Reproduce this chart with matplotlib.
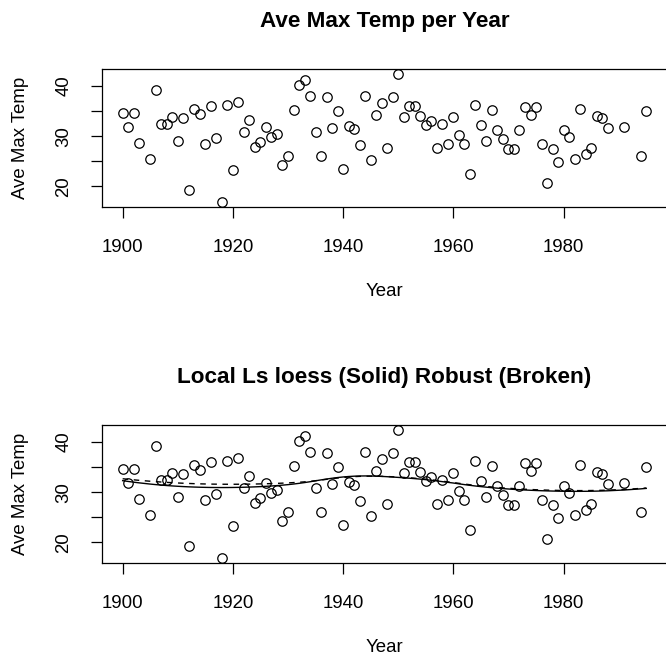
import numpy as np
import matplotlib
matplotlib.use("Agg")
import matplotlib.pyplot as plt

plt.rcParams['font.family'] = ['Liberation Sans', 'DejaVu Sans']

# yearly average maximum temperature
years = [1900, 1901, 1902, 1903, 1905, 1906, 1907, 1908, 1909, 1910,
         1911, 1912, 1913, 1914, 1915, 1916, 1917, 1918, 1919, 1920,
         1921, 1922, 1923, 1924, 1925, 1926, 1927, 1928, 1929, 1930,
         1931, 1932, 1933, 1934, 1935, 1936, 1937, 1938, 1939, 1940,
         1941, 1942, 1943, 1944, 1945, 1946, 1947, 1948, 1949, 1950,
         1951, 1952, 1953, 1954, 1955, 1956, 1957, 1958, 1959, 1960,
         1961, 1962, 1963, 1964, 1965, 1966, 1967, 1968, 1969, 1970,
         1971, 1972, 1973, 1974, 1975, 1976, 1977, 1978, 1979, 1980,
         1981, 1982, 1983, 1984, 1985, 1986, 1987, 1988, 1991, 1994,
         1995]
max_temp = [34.5, 31.8, 34.5, 28.6, 25.5, 39.1, 32.4, 32.4, 33.7, 29.1,
            33.5, 19.4, 35.4, 34.4, 28.5, 36.0, 29.6, 17.0, 36.2, 23.2,
            36.8, 30.8, 33.1, 27.9, 28.9, 31.9, 29.9, 30.4, 24.3, 26.1,
            35.2, 40.2, 41.2, 38.0, 30.9, 26.1, 37.8, 31.6, 34.9, 23.5,
            32.0, 31.4, 28.3, 38.0, 25.2, 34.2, 36.5, 27.7, 37.8, 42.3,
            33.8, 35.9, 35.9, 33.9, 32.2, 32.9, 27.7, 32.4, 28.5, 33.8,
            30.3, 28.5, 22.5, 36.2, 32.2, 29.0, 35.2, 31.2, 29.4, 27.5,
            27.4, 31.3, 35.7, 34.1, 35.7, 28.5, 20.7, 27.4, 24.9, 31.3,
            29.8, 25.4, 35.4, 26.5, 27.6, 34.0, 33.6, 31.6, 31.9, 26.1,
            34.9]

xticks = [1900, 1920, 1940, 1960, 1980]
yticks = [20, 25, 30, 35, 40]
yticklabels = ['20', '', '30', '', '40']

x = np.array(years, dtype=float)
y = np.array(max_temp)


def loess(x, y, span=0.75, robust=False, iters=4):
    # local quadratic fit with tricube weights, like R's loess()
    n = len(x)
    q = int(np.floor(span * n))
    rw = np.ones(n)
    fit = np.zeros(n)
    for it in range(iters if robust else 1):
        for i in range(n):
            d = np.abs(x - x[i])
            h = np.sort(d)[q - 1]
            w = np.clip(1 - (d / h) ** 3, 0, None) ** 3 * rw
            X = np.column_stack([np.ones(n), x - x[i], (x - x[i]) ** 2])
            W = np.sqrt(w)
            beta = np.linalg.lstsq(X * W[:, None], y * W, rcond=None)[0]
            fit[i] = beta[0]
        res = y - fit
        s = np.median(np.abs(res))
        u = res / (6 * s)
        rw = np.where(np.abs(u) < 1, (1 - u ** 2) ** 2, 0)
    return fit


fit_ls = loess(x, y)
fit_rob = loess(x, y, robust=True)

W, H = 666, 656
fig = plt.figure(figsize=(W / 100, H / 100), dpi=100)

fs = 13.4


def panel(top, title):
    ax = fig.add_axes([101.7 / W, 1 - (top + 137.7) / H, 565.5 / W, 137.7 / H])
    ax.plot(x, y, 'o', mfc='none', mec='black', ms=6.8, mew=0.9)
    ax.margins(x=0.04, y=0.04)
    ax.set_xticks(xticks)
    ax.set_yticks(yticks)
    ax.set_yticklabels(yticklabels, rotation=90, va='center')
    ax.tick_params(length=8, width=0.9, labelsize=fs)
    ax.tick_params(axis='x', pad=15)
    ax.tick_params(axis='y', pad=13)
    for sp in ax.spines.values():
        sp.set_linewidth(0.9)
    ax.set_xlabel('Year', fontsize=fs, labelpad=20)
    ax.set_ylabel('Ave Max Temp', fontsize=fs, labelpad=19)
    fig.text((101.7 + 667) / 2 / W, 1 - (top - 48) / H, title,
             ha='center', va='center', fontsize=16.2, fontweight='bold')
    return ax


ax1 = panel(69, 'Ave Max Temp per Year')
ax2 = panel(425, 'Local Ls loess (Solid) Robust (Broken)')
ax2.plot(x, fit_ls, color='black', lw=1.0)
ax2.plot(x, fit_rob, color='black', lw=1.0, ls=(0, (4, 4)))

fig.savefig('out.png', dpi=100)
